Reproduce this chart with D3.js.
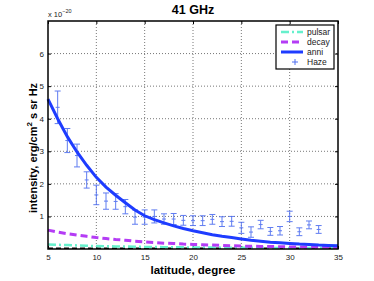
<!DOCTYPE html>
<html>
<head>
<meta charset="utf-8">
<script src="https://cdn.jsdelivr.net/npm/d3@7"></script>
<style>
  body { margin: 0; background: #fff; }
  text { font-family: "Liberation Sans", Arial, sans-serif; }
</style>
</head>
<body>
<div id="chart"></div>
<script>
// latitude grid for the model curves
const lat = d3.range(5, 36);
// model curves, units of 1e-20 erg/cm^2 s sr Hz
const anni = [4.6, 4.0, 3.45, 2.98, 2.57, 2.2, 1.9, 1.65, 1.42, 1.2, 1.02, 0.9, 0.8, 0.71, 0.63, 0.56,
    0.5, 0.44, 0.39, 0.35, 0.31, 0.27, 0.24, 0.21, 0.19, 0.17, 0.15, 0.14, 0.12, 0.11, 0.1];
const decay = [0.58, 0.52, 0.47, 0.43, 0.39, 0.35, 0.32, 0.29, 0.27, 0.24, 0.22, 0.2, 0.18, 0.17, 0.15, 0.14,
    0.13, 0.12, 0.11, 0.1, 0.09, 0.085, 0.08, 0.075, 0.07, 0.065, 0.06, 0.055, 0.05, 0.05, 0.045];
const pulsar = [0.14, 0.13, 0.12, 0.11, 0.1, 0.09, 0.085, 0.08, 0.075, 0.07, 0.065, 0.06, 0.057, 0.054, 0.05, 0.048,
    0.046, 0.044, 0.042, 0.04, 0.038, 0.036, 0.035, 0.034, 0.033, 0.032, 0.031, 0.03, 0.03, 0.03, 0.03];

// Haze data points with errors
const hazeLat = d3.range(6, 34);
const hazeVal = [4.35, 3.33, 2.87, 2.12, 1.66, 1.47, 1.46, 1.3, 0.98, 0.98, 1.0, 0.92, 0.92, 0.88,
    0.87, 0.87, 0.91, 0.84, 0.85, 0.65, 0.52, 0.75, 0.54, 0.56, 1.0, 0.53, 0.74, 0.6];
const hazeErr = [0.5, 0.37, 0.35, 0.25, 0.3, 0.25, 0.24, 0.22, 0.22, 0.22, 0.2, 0.16, 0.17, 0.15,
    0.15, 0.15, 0.15, 0.15, 0.15, 0.17, 0.16, 0.13, 0.12, 0.13, 0.16, 0.12, 0.12, 0.12];

const xTicks = [5, 10, 15, 20, 25, 30, 35];
const yTicks = [1, 2, 3, 4, 5, 6];

const w = 374, h = 281;
const mLeft = 48, mRight = 338, mTop = 21, mBottom = 249;

const svg = d3.select("#chart").append("svg").attr("width", w).attr("height", h);

const x = d3.scaleLinear().domain([5, 35]).range([mLeft, mRight]);
const y = d3.scaleLinear().domain([0, 7]).range([mBottom, mTop]);

// grid
svg.append("g").selectAll("line")
    .data(xTicks.slice(1, -1))
    .enter().append("line")
    .attr("x1", d => x(d)).attr("x2", d => x(d))
    .attr("y1", mTop).attr("y2", mBottom)
    .attr("stroke", "#777").attr("stroke-width", 1).attr("stroke-dasharray", "1,2");
svg.append("g").selectAll("line")
    .data(yTicks)
    .enter().append("line")
    .attr("x1", mLeft).attr("x2", mRight)
    .attr("y1", d => y(d)).attr("y2", d => y(d))
    .attr("stroke", "#777").attr("stroke-width", 1).attr("stroke-dasharray", "1,2");

// ticks inside the box
const xAxisB = d3.axisBottom(x).tickValues(xTicks).tickFormat(d3.format("d")).tickSize(-3).tickPadding(5);
const yAxisL = d3.axisLeft(y).tickValues(yTicks).tickFormat(d3.format("d")).tickSize(-3).tickPadding(4);
svg.append("g").attr("transform", `translate(0,${mBottom})`).call(xAxisB)
    .call(g => g.select(".domain").remove());
svg.append("g").attr("transform", `translate(${mLeft},0)`).call(yAxisL)
    .call(g => g.select(".domain").remove());
svg.append("g").attr("transform", `translate(0,${mTop})`)
    .call(d3.axisTop(x).tickValues(xTicks).tickSize(-3).tickFormat(""))
    .call(g => g.select(".domain").remove());
svg.append("g").attr("transform", `translate(${mRight},0)`)
    .call(d3.axisRight(y).tickValues(yTicks).tickSize(-3).tickFormat(""))
    .call(g => g.select(".domain").remove());
svg.selectAll(".tick text").attr("font-size", 8).attr("fill", "#222")
    .style("font-family", "Liberation Sans, Arial, sans-serif");
svg.selectAll(".tick line").attr("stroke", "#000");

const line = vals => d3.line().x((d, i) => x(lat[i])).y(d => y(d))(vals);

// black dashed baseline
svg.append("line")
    .attr("x1", x(5)).attr("x2", x(35))
    .attr("y1", y(0.02)).attr("y2", y(0.02))
    .attr("stroke", "#000").attr("stroke-width", 1.5).attr("stroke-dasharray", "5,3");

svg.append("path").attr("d", line(pulsar))
    .attr("fill", "none").attr("stroke", "#66f0cc").attr("stroke-width", 2.5)
    .attr("stroke-dasharray", "8,3,2,3");
svg.append("path").attr("d", line(decay))
    .attr("fill", "none").attr("stroke", "#b43cf5").attr("stroke-width", 3)
    .attr("stroke-dasharray", "7,4");

// Haze error bars
const haze = svg.append("g").attr("stroke", "#4f6ff0").attr("stroke-width", 1).attr("opacity", 0.9);
hazeLat.forEach((l, i) => {
    const cx = x(l), v = hazeVal[i], e = hazeErr[i];
    haze.append("line").attr("x1", cx).attr("x2", cx).attr("y1", y(v - e)).attr("y2", y(v + e));
    haze.append("line").attr("x1", cx - 3).attr("x2", cx + 3).attr("y1", y(v - e)).attr("y2", y(v - e));
    haze.append("line").attr("x1", cx - 3).attr("x2", cx + 3).attr("y1", y(v + e)).attr("y2", y(v + e));
    haze.append("line").attr("x1", cx - 2).attr("x2", cx + 2).attr("y1", y(v)).attr("y2", y(v));
});

svg.append("path").attr("d", line(anni))
    .attr("fill", "none").attr("stroke", "#1e3cff").attr("stroke-width", 3);

// box
svg.append("rect")
    .attr("x", mLeft).attr("y", mTop).attr("width", mRight - mLeft).attr("height", mBottom - mTop)
    .attr("fill", "none").attr("stroke", "#000").attr("stroke-width", 1.5);

// legend
const lg = svg.append("g").attr("transform", "translate(276,25)");
lg.append("rect").attr("width", 58).attr("height", 44)
    .attr("fill", "#fff").attr("stroke", "#000").attr("stroke-width", 1.2);
const legendItems = [
    { name: "pulsar", color: "#66f0cc", dash: "8,3,2,3", w: 2.5 },
    { name: "decay", color: "#b43cf5", dash: "7,4", w: 3 },
    { name: "anni", color: "#1e3cff", dash: null, w: 3 },
    { name: "Haze", color: "#4f6ff0", dash: null, w: 1 }
];
legendItems.forEach((it, i) => {
    const yy = 7 + i * 10;
    if (it.name === "Haze") {
        lg.append("line").attr("x1", 16).attr("x2", 22).attr("y1", yy).attr("y2", yy).attr("stroke", it.color);
        lg.append("line").attr("x1", 19).attr("x2", 19).attr("y1", yy - 3).attr("y2", yy + 3).attr("stroke", it.color);
    } else {
        lg.append("line").attr("x1", 5).attr("x2", 27).attr("y1", yy).attr("y2", yy)
            .attr("stroke", it.color).attr("stroke-width", it.w)
            .attr("stroke-dasharray", it.dash);
    }
    lg.append("text").attr("x", 31).attr("y", yy + 3).attr("font-size", 8.5).attr("fill", "#222").text(it.name);
});

// title and labels
svg.append("text").attr("x", 193).attr("y", 14).attr("text-anchor", "middle")
    .attr("font-size", 12.5).attr("font-weight", "bold").text("41 GHz");
const mult = svg.append("text").attr("x", 48).attr("y", 17).attr("font-size", 7.5).attr("fill", "#222");
mult.append("tspan").text("x 10");
mult.append("tspan").attr("dy", -4).attr("font-size", 5.5).text("−20");

svg.append("text").attr("x", 193).attr("y", 274).attr("text-anchor", "middle")
    .attr("font-size", 11.5).attr("font-weight", "bold").text("latitude, degree");

const yl = svg.append("text").attr("transform", "translate(37,148) rotate(-90)")
    .attr("text-anchor", "middle").attr("font-size", 11).attr("font-weight", "bold");
yl.append("tspan").text("intensity, erg/cm");
yl.append("tspan").attr("dy", -5).attr("font-size", 8).text("2");
yl.append("tspan").attr("dy", 5).text(" s sr Hz");
</script>
</body>
</html>
